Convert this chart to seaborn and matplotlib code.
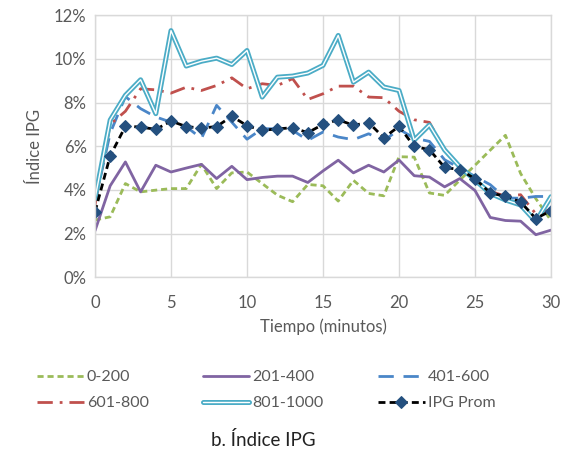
import numpy as np
import pandas as pd
import matplotlib
matplotlib.use("Agg")
import matplotlib.pyplot as plt
import matplotlib.patheffects as pe
from matplotlib.ticker import PercentFormatter
import seaborn as sns

# Data (IPG index, %)
minutes = list(range(31))
ipg_0_200 = [2.62, 2.77, 4.29, 3.91, 3.99, 4.06, 4.06, 5.17, 4.06, 4.78, 4.82,
             4.29, 3.76, 3.46, 4.25, 4.19, 3.49, 4.44, 3.84, 3.73, 5.52,
             5.5, 3.86, 3.75, 4.45, 5.13, 5.82, 6.5, 4.75, 3.6, 2.6]
ipg_201_400 = [2.13, 4.19, 5.28, 3.91, 5.13, 4.82, 5.0, 5.17, 4.52, 5.08, 4.47,
               4.57, 4.63, 4.63, 4.34, 4.87, 5.36, 4.78, 5.13, 4.82, 5.37,
               4.65, 4.59, 4.14, 4.52, 3.97, 2.74, 2.6, 2.57, 1.95, 2.16]
ipg_401_600 = [3.45, 6.6, 8.27, 7.72, 7.34, 7.1, 6.9, 6.35, 7.87, 7.1, 6.32,
               6.8, 6.8, 6.73, 6.27, 6.65, 6.42, 6.3, 6.57, 6.24, 6.78,
               6.37, 6.22, 5.38, 5.0, 4.62, 4.24, 3.63, 3.62, 3.7, 3.7]
ipg_601_800 = [3.3, 7.0, 7.6, 8.63, 8.58, 8.43, 8.7, 8.55, 8.78, 9.13, 8.63,
               8.86, 8.78, 9.09, 8.14, 8.4, 8.75, 8.75, 8.25, 8.22, 7.6,
               7.21, 7.09, 5.84, 5.08, 4.47, 3.94, 3.71, 3.78, 2.9, 3.1]
ipg_801_1000 = [3.6, 7.2, 8.33, 9.04, 7.49, 11.29, 9.67, 9.89, 10.03, 9.74, 10.38,
                8.25, 9.16, 9.21, 9.35, 9.7, 11.07, 8.93, 9.39, 8.71, 8.55,
                6.28, 6.97, 5.83, 5.06, 4.45, 3.84, 3.54, 3.31, 2.55, 3.69]
ipg_prom = [3.0, 5.56, 6.91, 6.88, 6.77, 7.15, 6.9, 6.83, 6.9, 7.37, 6.94,
            6.73, 6.79, 6.85, 6.62, 7.0, 7.21, 6.96, 7.08, 6.39, 6.91,
            5.99, 5.84, 5.03, 4.93, 4.51, 3.86, 3.71, 3.45, 2.69, 3.05]

series_names = ["0-200", "201-400", "401-600", "601-800", "801-1000", "IPG Prom"]

TEXT = "#595959"
GRID = "#d9d9d9"

sns.set_theme(style="white")
plt.rcParams["font.family"] = ["Lato", "DejaVu Sans"]

fig = plt.figure(figsize=(5.74, 4.58), dpi=100)
ax = fig.add_axes([0.1655, 0.3945, 0.7945, 0.5725])

# --- series ---
sns.lineplot(x=minutes, y=ipg_0_200, ax=ax, color="#9bbb59", lw=2,
             linestyle=(0, (2.2, 1.4)), label=series_names[0])
sns.lineplot(x=minutes, y=ipg_201_400, ax=ax, color="#8064a2", lw=2,
             label=series_names[1])
sns.lineplot(x=minutes, y=ipg_401_600, ax=ax, color="#4a86c8", lw=2,
             linestyle=(0, (5.5, 3.5)), label=series_names[2])
sns.lineplot(x=minutes, y=ipg_601_800, ax=ax, color="#c0504d", lw=2,
             linestyle=(0, (5.5, 2.5, 1, 2.5)), label=series_names[3])
sns.lineplot(x=minutes, y=ipg_801_1000, ax=ax, color="white", lw=1.0,
             label=series_names[4],
             path_effects=[pe.Stroke(linewidth=3.6, foreground="#4bacc6"), pe.Normal()])
sns.lineplot(x=minutes, y=ipg_prom, ax=ax, color="black", lw=2,
             linestyle=(0, (2.5, 1.5)), marker="D", markersize=6.5,
             markerfacecolor="#24507f", markeredgecolor="#24507f",
             label=series_names[5])

# --- axes ---
ax.set_xlim(0, 30)
ax.set_ylim(0, 12)
ax.set_xticks(range(0, 31, 5))
ax.set_yticks(range(0, 13, 2))
ax.yaxis.set_major_formatter(PercentFormatter(decimals=0))
ax.grid(True, color=GRID, lw=1)
ax.set_axisbelow(True)
for s in ax.spines.values():
    s.set_color(GRID)
    s.set_linewidth(1)
ax.tick_params(colors=TEXT, labelsize=12, length=0)
ax.tick_params(axis="x", pad=13)
ax.tick_params(axis="y", pad=6)
ax.set_xlabel("Tiempo (minutos)", color=TEXT, fontsize=12, labelpad=5)
ax.set_ylabel("Índice IPG", color=TEXT, fontsize=12, labelpad=8)

ax.legend_.remove()
handles, labels = ax.get_legend_handles_labels()
# reorder so the legend fills row by row (3 columns)
order = [0, 3, 1, 4, 2, 5]
leg = fig.legend([handles[i] for i in order], [labels[i] for i in order],
                 loc="center", bbox_to_anchor=(0.464, 0.148), ncol=3, frameon=False,
                 fontsize=11.5, labelcolor=TEXT, handlelength=2.9, handletextpad=0.2,
                 columnspacing=3.4, labelspacing=0.75)

fig.text(0.458, 0.04, "b. Índice IPG", ha="center", va="center", fontsize=13.5,
         color="#222222")

fig.savefig("out.png", dpi=100)
